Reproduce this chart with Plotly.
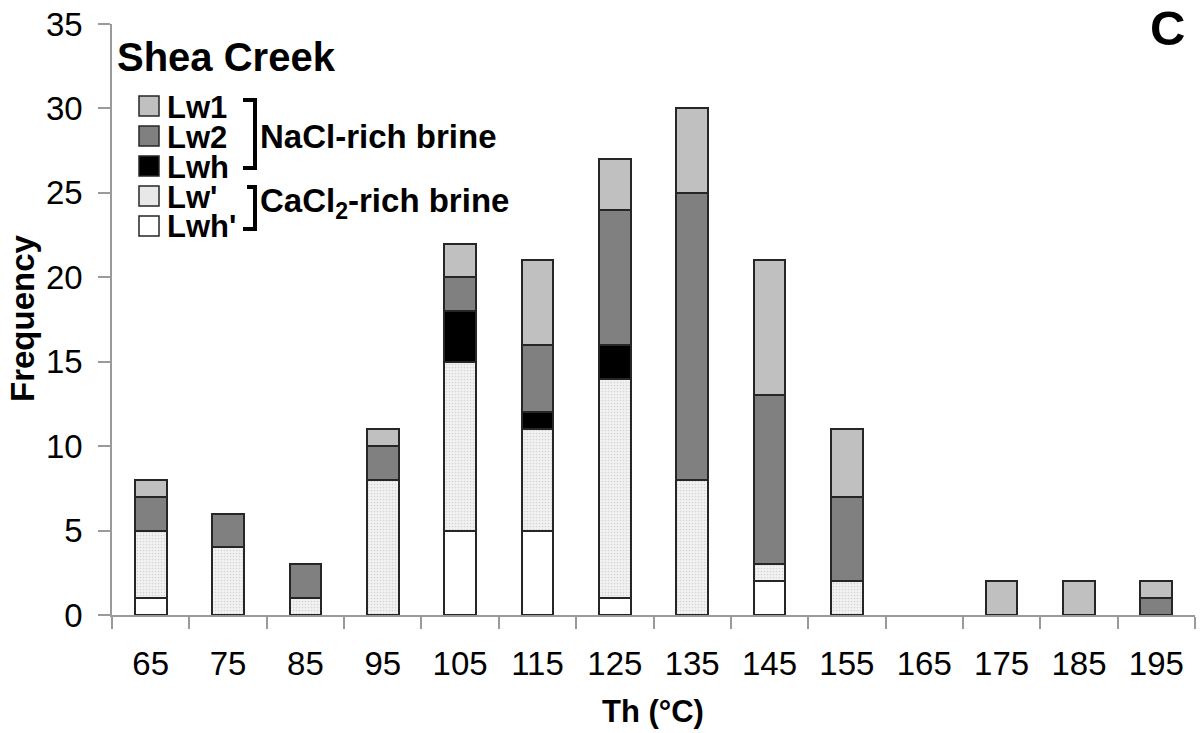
import plotly.graph_objects as go

categories = ["65", "75", "85", "95", "105", "115", "125", "135", "145", "155", "165", "175", "185", "195"]
lwh_prime = [1, 0, 0, 0, 5, 5, 1, 0, 2, 0, 0, 0, 0, 0]
lw_prime = [4, 4, 1, 8, 10, 6, 13, 8, 1, 2, 0, 0, 0, 0]
lwh = [0, 0, 0, 0, 3, 1, 2, 0, 0, 0, 0, 0, 0, 0]
lw2 = [2, 2, 2, 2, 2, 4, 8, 17, 10, 5, 0, 0, 0, 1]
lw1 = [1, 0, 0, 1, 2, 5, 3, 5, 8, 4, 0, 2, 2, 1]

y_ticks = [0, 5, 10, 15, 20, 25, 30, 35]

W, H = 1200, 733
L, R, T, B = 112, 5, 24, 118
PW, PH = W - L - R, H - T - B


def px(x):
    return (x - L) / PW


def py(y):
    return (H - B - y) / PH


FONT = "Liberation Sans, Arial, sans-serif"
OUTLINE = dict(color="#262626", width=2)

fig = go.Figure()
series = [
    ("Lwh'", lwh_prime, dict(color="#ffffff")),
    ("Lw'", lw_prime, dict(color="#eeeeee",
                          pattern=dict(shape=".", fgcolor="#b5b5b5", bgcolor="#f2f2f2", size=3, solidity=0.25))),
    ("Lwh", lwh, dict(color="#000000")),
    ("Lw2", lw2, dict(color="#808080")),
    ("Lw1", lw1, dict(color="#c0c0c0")),
]
for name, vals, m in series:
    m = dict(m)
    m["line"] = OUTLINE
    fig.add_trace(go.Bar(x=categories, y=[v if v else None for v in vals], name=name,
                         marker=m, showlegend=False))

fig.update_layout(
    width=W, height=H,
    margin=dict(l=L, r=R, t=T, b=B, pad=0),
    barmode="stack", bargap=0.59,
    plot_bgcolor="white", paper_bgcolor="white",
    font=dict(family=FONT, color="black"),
)
fig.update_xaxes(
    type="category", tickson="boundaries", ticks="outside", ticklen=12, tickcolor="#9a9a9a", tickwidth=1.5,
    showline=True, linecolor="#9a9a9a", linewidth=1.5, showgrid=False,
    tickfont=dict(size=33, family=FONT), ticklabelstandoff=19,
)
fig.update_yaxes(
    range=[0, 35], tickvals=y_ticks, ticks="outside", ticklen=12, tickcolor="#9a9a9a", tickwidth=1.5,
    showline=True, linecolor="#9a9a9a", linewidth=1.5, showgrid=False, zeroline=False,
    tickfont=dict(size=33, family=FONT), ticklabelstandoff=9,
)

ann = []
# axis titles
ann.append(dict(text="<b>Th (°C)</b>", x=px(653), y=py(711), xref="paper", yref="paper",
                showarrow=False, font=dict(size=31), xanchor="center", yanchor="middle"))
ann.append(dict(text="<b>Frequency</b>", x=px(22), y=py(318), xref="paper", yref="paper",
                showarrow=False, font=dict(size=33), textangle=-90, xanchor="center", yanchor="middle"))
# panel label and site
ann.append(dict(text="<b>C</b>", x=px(1167), y=py(28), xref="paper", yref="paper",
                showarrow=False, font=dict(size=49), xanchor="center", yanchor="middle"))
ann.append(dict(text="<b>Shea Creek</b>", x=px(115), y=py(57), xref="paper", yref="paper",
                showarrow=False, font=dict(size=40), xanchor="left", yanchor="middle"))

legend_items = [
    ("Lw1", "#c0c0c0", 106),
    ("Lw2", "#808080", 136),
    ("Lwh", "#000000", 166),
    ("Lw'", "#e8e8e8", 196),
    ("Lwh'", "#ffffff", 226),
]
shapes = []
for name, col, yc in legend_items:
    shapes.append(dict(type="rect", xref="paper", yref="paper",
                       x0=px(139), x1=px(159), y0=py(yc - 10), y1=py(yc + 10),
                       fillcolor=col, line=dict(color="#262626", width=1.5)))
    ann.append(dict(text="<b>%s</b>" % name, x=px(165), y=py(yc + 1), xref="paper", yref="paper",
                    showarrow=False, font=dict(size=31), xanchor="left", yanchor="middle"))


def bracket(y0, y1, xl_top, xl_bot):
    return dict(type="path", xref="paper", yref="paper",
                path="M %f,%f L %f,%f L %f,%f L %f,%f" % (
                    px(xl_top), py(y0), px(255), py(y0), px(255), py(y1), px(xl_bot), py(y1)),
                line=dict(color="black", width=4))


shapes.append(bracket(100, 168, 243, 243))
shapes.append(bracket(187, 229, 247, 243))

ann.append(dict(text="<b>NaCl-rich brine</b>", x=px(258), y=py(136), xref="paper", yref="paper",
                showarrow=False, font=dict(size=33), xanchor="left", yanchor="middle"))
ann.append(dict(text="<b>CaCl<sub>2</sub>-rich brine</b>", x=px(258), y=py(203), xref="paper", yref="paper",
                showarrow=False, font=dict(size=33), xanchor="left", yanchor="middle"))

fig.update_layout(annotations=ann, shapes=shapes)
fig.write_html("out.html", post_script="document.body.style.margin='0';",
               config={"displayModeBar": False})
